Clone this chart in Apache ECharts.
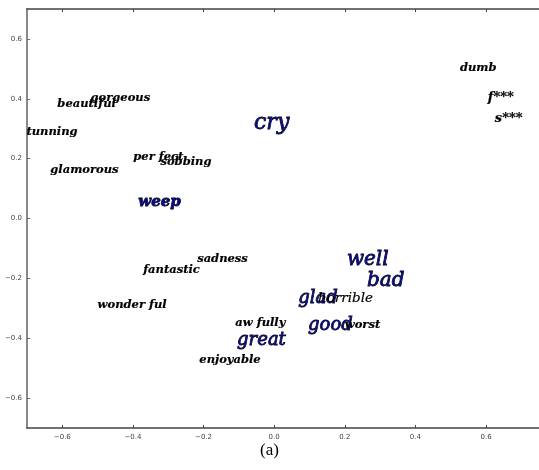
<!DOCTYPE html>
<html><head><meta charset="utf-8">
<script src="https://cdn.jsdelivr.net/npm/echarts@6/dist/echarts.min.js"></script>
<style>html,body{margin:0;padding:0;background:#fff}#c{width:539px;height:470px}</style>
</head><body><div id="c"></div>
<script>
// ---- data ----
var words = ['beautiful','gorgeous','stunning','per fect','sobbing','glamorous','weep','cry',
  'dumb','f***','s***','sadness','fantastic','wonder ful','aw fully','great','enjoyable',
  'well','bad','glad','horrible','good','worst'];
var xValues = [-0.614,-0.52,-0.72,-0.399,-0.322,-0.634,-0.385,-0.057,
  0.526,0.605,0.625,-0.218,-0.371,-0.50,-0.11,-0.105,-0.212,
  0.206,0.263,0.068,0.124,0.096,0.20];
var yValues = [0.373,0.393,0.277,0.193,0.178,0.15,0.043,0.30,
  0.493,0.393,0.323,-0.147,-0.183,-0.30,-0.36,-0.423,-0.483,
  -0.157,-0.227,-0.283,-0.28,-0.373,-0.367];
var xTicks = [-0.6,-0.4,-0.2,0.0,0.2,0.4,0.6];
var yTicks = [-0.6,-0.4,-0.2,0.0,0.2,0.4,0.6];
var caption = '(a)';

// ---- styles ----
var navy = '#0a0a80';
var bigStyle = {
  'cry': {size: 22, color: navy, weight: 'normal'},
  'well': {size: 20, color: navy, weight: 'normal'},
  'bad': {size: 20, color: navy, weight: 'normal'},
  'glad': {size: 18, color: navy, weight: 'normal'},
  'good': {size: 18, color: navy, weight: 'normal'},
  'great': {size: 18, color: navy, weight: 'normal'},
  'weep': {size: 15, color: navy, weight: 'bold'},
  'horrible': {size: 13.5, color: '#000', weight: 'normal'},
  'f***': {size: 13, color: '#000', weight: 'bold'},
  's***': {size: 13, color: '#000', weight: 'bold'}
};
var defStyle = {size: 11.5, color: '#000', weight: 'bold'};
var fontFam = '"DejaVu Serif", serif';

var data = words.map(function(w, i){ return [xValues[i], yValues[i], w]; });
var minusFmt = function(v){ return (v.toFixed(1)).replace('-', '\u2212'); };

var chart = echarts.init(document.getElementById('c'), null, {renderer: 'canvas'});
chart.setOption({
  animation: false,
  grid: {left: 27, right: 0, top: 9, bottom: 42},
  title: {text: caption, left: 'center', top: 437,
    textStyle: {fontFamily: '"Liberation Serif", serif', fontSize: 17, fontWeight: 'normal', color: '#000'}},
  xAxis: [{
    type: 'value', min: -0.7, max: 0.75, position: 'bottom',
    splitLine: {show: false},
    axisLine: {show: true, onZero: false, lineStyle: {color: '#444', width: 1.5}},
    axisTick: {show: true, inside: true, length: 3, customValues: xTicks, lineStyle: {color: '#444'}},
    axisLabel: {show: true, customValues: xTicks, formatter: minusFmt, fontSize: 7, color: '#444',
      fontFamily: '"DejaVu Sans", sans-serif', margin: 6}
  }, {
    type: 'value', min: -0.7, max: 0.75, position: 'top',
    splitLine: {show: false},
    axisLine: {show: true, onZero: false, lineStyle: {color: '#444', width: 1.5}},
    axisTick: {show: true, inside: true, length: 3, customValues: xTicks, lineStyle: {color: '#444'}},
    axisLabel: {show: false}
  }],
  yAxis: [{
    type: 'value', min: -0.7, max: 0.7, position: 'left',
    splitLine: {show: false},
    axisLine: {show: true, onZero: false, lineStyle: {color: '#888', width: 2}},
    axisTick: {show: true, inside: true, length: 3, customValues: yTicks, lineStyle: {color: '#666'}},
    axisLabel: {show: true, customValues: yTicks, formatter: minusFmt, fontSize: 7, color: '#444',
      fontFamily: '"DejaVu Sans", sans-serif', margin: 5}
  }],
  series: [{
    type: 'custom',
    coordinateSystem: 'cartesian2d',
    clip: true,
    data: data,
    renderItem: function(params, api){
      var p = api.coord([api.value(0), api.value(1)]);
      var w = data[params.dataIndex][2];
      var st = bigStyle[w] || defStyle;
      return {
        type: 'text',
        x: p[0], y: p[1] + st.size * 0.24,
        style: {
          text: w,
          font: 'italic ' + st.weight + ' ' + st.size + 'px ' + fontFam,
          fill: st.color,
          stroke: '#000',
          lineWidth: st.color === '#000' ? 0.2 : 0.8,
          align: 'left', verticalAlign: 'bottom'
        }
      };
    }
  }]
});
</script></body></html>
